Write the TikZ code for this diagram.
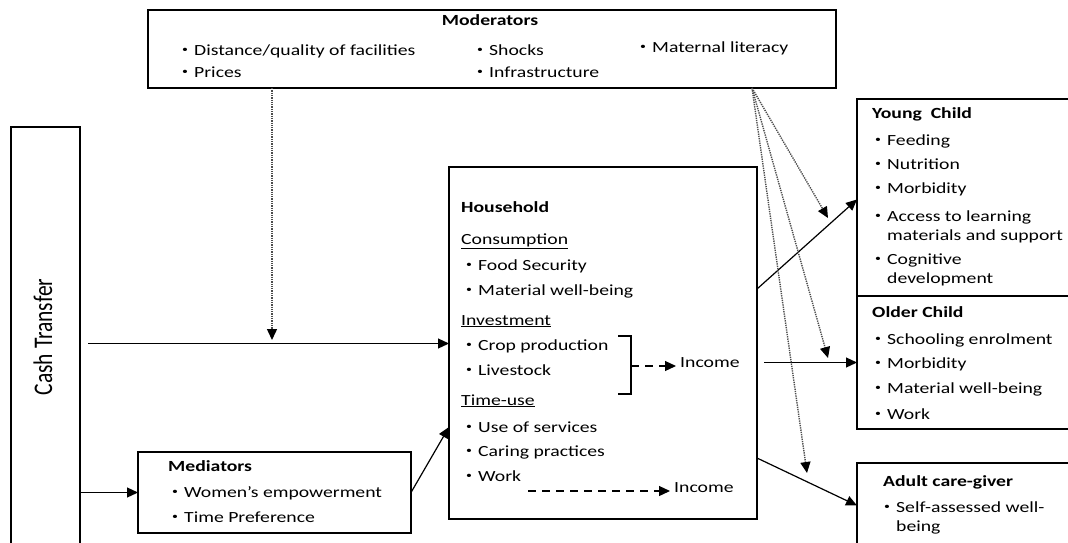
\documentclass[tikz,border=0pt]{standalone}
\usepackage{fontspec}
\setmainfont{Carlito}[FakeStretch=1.27]
\newfontfamily\ctfont{Carlito}
\usetikzlibrary{arrows.meta,calc}
\tikzset {>={Triangle[length=11pt,width=10pt]}}
\tikzset{
  box/.style={draw,line width=1.5pt,inner sep=0pt,outer sep=0pt},
  txt/.style={anchor=base west,inner sep=0pt,font=\fontsize{15.5}{19.5}\selectfont},
  conn/.style={->,line width=1.2pt},
  modline/.style={-{Triangle[length=11pt,width=10pt,color=black]},line width=1.4pt,black!70,dash pattern=on 1.3pt off 1pt},
  incline/.style={->,line width=1.2pt,dash pattern=on 8pt off 6pt}
}
\newcommand*{\itm}[1]{\makebox[12pt][l]{\raisebox{.18em}{\scalebox{.6}{\textbullet}}}\begin{tabular}[t]{@{}l@{}}#1\end{tabular}}

\begin{document}
\begin{tikzpicture}[x=1pt,y=-1pt]
\useasboundingbox (0,0) rectangle (1068,542);

% Boxes
\node[box,minimum width=688pt,minimum height=78pt]  (mod)   at (492,49)     {};
\node[box,minimum width=69pt,minimum height=433pt]  (cash)  at (45.5,343.5) {};
\node[box,minimum width=273pt,minimum height=81pt]  (med)   at (274.5,492.5) {};
\node[box,minimum width=308pt,minimum height=352pt] (hh)    at (603,343)    {};
\node[box,minimum width=223pt,minimum height=197pt] (young) at (968.5,197.5) {};
\node[box,minimum width=223pt,minimum height=133pt] (older) at (968.5,362.5) {};
\node[box,minimum width=223pt,minimum height=97pt]  (adult) at (968.5,511.5) {};

% Cash transfer
\node[rotate=90,inner sep=0pt] (ct) at (43,337)
   {\scalebox{1}[1.25]{\ctfont\fontsize{21.5}{24}\selectfont Cash Transfer}};

% Moderators
\node[txt,anchor=base] (modT) at (490,25) {\bfseries Moderators};
\node[txt] (mod1) at (182,55) {\itm{Distance/quality of facilities}};
\node[txt] (mod2) at (182,77) {\itm{Prices}};
\node[txt] (mod3) at (477,55) {\itm{Shocks}};
\node[txt] (mod4) at (477,77) {\itm{Infrastructure}};
\node[txt] (mod5) at (640,52) {\itm{Maternal literacy}};

% Mediators
\node[txt] (medT) at (168,471) {\bfseries Mediators};
\node[txt] (med1) at (172,497) {\itm{Women's empowerment}};
\node[txt] (med2) at (172,522) {\itm{Time Preference}};

% Household
\node[txt] (hhT)  at (461,212) {\bfseries Household};
\node[txt] (hh1)  at (461,244) {\underline{Consumption}};
\node[txt] (hh2)  at (466,270) {\itm{Food Security}};
\node[txt] (hh3)  at (466,295) {\itm{Material well-being}};
\node[txt] (hh4)  at (461,325) {\underline{Investment}};
\node[txt] (hh5)  at (466,350) {\itm{Crop production}};
\node[txt] (hh6)  at (466,375) {\itm{Livestock}};
\node[txt] (hh7)  at (461,405) {\underline{Time-use}};
\node[txt] (hh8)  at (466,432) {\itm{Use of services}};
\node[txt] (hh9)  at (466,456) {\itm{Caring practices}};
\node[txt] (hh10) at (466,481) {\itm{Work}};
\node[txt,inner sep=4pt] (inc1) at (676,367) {Income};
\node[txt,inner sep=4pt] (inc2) at (670,492) {Income};

% Bracket and income
\draw[line width=1.2pt] (618,336) -- (631,336) -- (631,394) -- (618,394);
\coordinate (brk) at (631,366);
\coordinate (wk)  at (528,491);
\draw[incline] (brk) -- (brk -| inc1.west);
\draw[incline] (wk) -- (wk -| inc2.west);

% Young child
\node[txt] (yT) at (872,118) {\bfseries Young\ \ Child};
\node[txt] (y1) at (875,145) {\itm{Feeding}};
\node[txt] (y2) at (875,169) {\itm{Nutrition}};
\node[txt] (y3) at (875,193) {\itm{Morbidity}};
\node[txt] (y4) at (875,221) {\itm{Access to learning\\materials and support}};
\node[txt] (y5) at (875,264) {\itm{Cognitive\\development}};

% Older child
\node[txt] (oT) at (872,317) {\bfseries Older Child};
\node[txt] (o1) at (875,344) {\itm{Schooling enrolment}};
\node[txt] (o2) at (875,368) {\itm{Morbidity}};
\node[txt] (o3) at (875,393) {\itm{Material well-being}};
\node[txt] (o4) at (875,419) {\itm{Work}};

% Adult care-giver
\node[txt] (aT) at (883,486) {\bfseries Adult care-giver};
\node[txt] (a1) at (884,512) {\itm{Self-assessed well-\\being}};

% Main flows
\draw[conn] ([xshift=8pt]cash.east) -- (cash.east -| hh.west);
\draw[conn] (cash.east |- med.west) -- (med.west);
\draw[conn] (med.east) -- ([yshift=-84pt]hh.west);
\draw[conn] ([yshift=54pt]hh.east) -- ([yshift=-2pt]young.west);
\draw[conn] ([xshift=7pt]hh.east |- older.west) -- (older.west);
\draw[conn] ([yshift=-115pt]hh.east) -- ([yshift=6pt]adult.west);

% Moderating effects
\coordinate (m1) at (272,340);
\coordinate (m2) at (828,218);
\coordinate (m3) at (828,358);
\coordinate (m4) at (807,473);
\draw[modline] (mod.south -| m1) -- (m1);
\draw[modline] (mod.south -| 752,0) -- (m2);
\draw[modline] (mod.south -| 752,0) -- (m3);
\draw[modline] (mod.south -| 752,0) -- (m4);
\end{tikzpicture}
\end{document}
